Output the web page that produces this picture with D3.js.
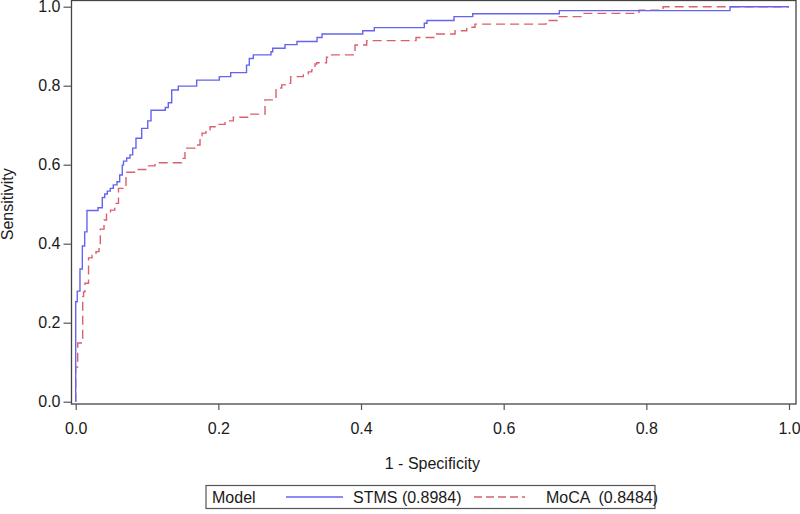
<!DOCTYPE html>
<html>
<head>
<meta charset="utf-8">
<script src="https://cdn.jsdelivr.net/npm/d3@7"></script>
<style>
  html, body { margin: 0; padding: 0; background: #fff; }
  svg { display: block; font-family: "Liberation Sans", Arial, sans-serif; }
  text { fill: #1a1a1a; }
</style>
</head>
<body>
<svg id="chart" width="800" height="514"></svg>
<script>
// ---- data ----
const stmsFpr = [0, 0, 0.0022, 0.006, 0.0093, 0.0126, 0.0158, 0.0313, 0.0373, 0.0407, 0.0443, 0.0485, 0.0527, 0.0579, 0.0617, 0.0653, 0.067, 0.0715, 0.0761, 0.0799, 0.0845, 0.0925, 0.101, 0.1056, 0.1256, 0.1298, 0.1346, 0.1438, 0.1696, 0.2013, 0.2173, 0.2395, 0.2434, 0.249, 0.2738, 0.2762, 0.2934, 0.3102, 0.3383, 0.3453, 0.4024, 0.4186, 0.4887, 0.4925, 0.5304, 0.5566, 0.678, 0.9173, 1.0];
const stmsTpr = [0, 0.253, 0.280, 0.336, 0.394, 0.430, 0.484, 0.491, 0.517, 0.526, 0.533, 0.540, 0.549, 0.557, 0.574, 0.599, 0.609, 0.617, 0.625, 0.642, 0.667, 0.692, 0.711, 0.738, 0.745, 0.757, 0.789, 0.799, 0.814, 0.823, 0.833, 0.852, 0.869, 0.878, 0.886, 0.895, 0.904, 0.912, 0.922, 0.931, 0.939, 0.947, 0.958, 0.965, 0.975, 0.982, 0.990, 1.0, 1.0];

const mocaFpr = [0, 0, 0.0028, 0.0098, 0.011, 0.013, 0.018, 0.0229, 0.0285, 0.0327, 0.0345, 0.0397, 0.0432, 0.0488, 0.0547, 0.06, 0.0663, 0.0705, 0.0878, 0.0993, 0.1112, 0.1486, 0.1532, 0.1673, 0.1743, 0.1771, 0.1827, 0.1883, 0.1977, 0.2093, 0.221, 0.243, 0.2654, 0.2808, 0.2888, 0.2934, 0.3014, 0.3191, 0.3261, 0.3309, 0.3355, 0.3379, 0.3516, 0.3565, 0.3892, 0.3916, 0.408, 0.4771, 0.5061, 0.5318, 0.5482, 0.5598, 0.6593, 0.6748, 0.7116, 0.7897, 0.8234, 1.0];
const mocaTpr = [0, 0.088, 0.1485, 0.266, 0.278, 0.300, 0.364, 0.371, 0.380, 0.397, 0.437, 0.460, 0.478, 0.485, 0.502, 0.540, 0.546, 0.581, 0.588, 0.597, 0.605, 0.616, 0.642, 0.650, 0.673, 0.680, 0.688, 0.696, 0.702, 0.711, 0.720, 0.728, 0.764, 0.794, 0.802, 0.806, 0.823, 0.830, 0.835, 0.840, 0.855, 0.858, 0.872, 0.878, 0.886, 0.903, 0.914, 0.922, 0.931, 0.939, 0.948, 0.956, 0.965, 0.975, 0.983, 0.991, 1.0, 1.0];

const xTicks = [0, 0.2, 0.4, 0.6, 0.8, 1.0];
const yTicks = [0, 0.2, 0.4, 0.6, 0.8, 1.0];
const seriesNames = ["STMS (0.8984)", "MoCA  (0.8484)"];
const legendTitle = "Model";
const xTitle = "1 - Specificity";
const yTitle = "Sensitivity";

// ---- layout ----
const svg = d3.select("#chart");
const frame = { left: 71.5, right: 796, top: 0.5, bottom: 404 };
const x = d3.scaleLinear().domain([0, 1]).range([75.7, 789]);
const y = d3.scaleLinear().domain([0, 1]).range([401.7, 6.7]);

const colors = ["#6464f0", "#d9606c"];

const series = [
  { pts: stmsFpr.map((v, i) => [v, stmsTpr[i]]), color: colors[0], dash: null },
  { pts: mocaFpr.map((v, i) => [v, mocaTpr[i]]), color: colors[1], dash: "9,5" }
];

const line = d3.line().x(d => x(d[0])).y(d => y(d[1])).curve(d3.curveStepAfter);

[series[1], series[0]].forEach(s => {
  svg.append("path")
    .attr("d", line(s.pts))
    .attr("fill", "none")
    .attr("stroke", s.color)
    .attr("stroke-width", 1.4)
    .attr("stroke-dasharray", s.dash);
});

// frame
svg.append("rect")
  .attr("x", frame.left).attr("y", frame.top)
  .attr("width", frame.right - frame.left)
  .attr("height", frame.bottom - frame.top)
  .attr("fill", "none").attr("stroke", "#444").attr("stroke-width", 1.3);

// axes
const xAxis = d3.axisBottom(x).tickValues(xTicks).tickFormat(d3.format(".1f")).tickSize(6).tickPadding(13);
const gx = svg.append("g").attr("transform", `translate(0,${frame.bottom})`).call(xAxis);
gx.select(".domain").remove();
gx.selectAll(".tick line").attr("stroke", "#555").attr("stroke-width", 1.2);
gx.selectAll(".tick text").attr("font-size", 16).attr("font-family", "Liberation Sans, Arial, sans-serif").attr("fill", "#1a1a1a");

const yAxis = d3.axisLeft(y).tickValues(yTicks).tickFormat(d3.format(".1f")).tickSize(8).tickPadding(3);
const gy = svg.append("g").attr("transform", `translate(${frame.left},0)`).call(yAxis);
gy.select(".domain").remove();
gy.selectAll(".tick line").attr("stroke", "#555").attr("stroke-width", 1.2);
gy.selectAll(".tick text").attr("font-size", 16).attr("font-family", "Liberation Sans, Arial, sans-serif").attr("fill", "#1a1a1a");

// axis titles
svg.append("text")
  .attr("x", (x(0) + x(1)) / 2).attr("y", 469)
  .attr("text-anchor", "middle").attr("font-size", 16)
  .text(xTitle);

svg.append("text")
  .attr("transform", `translate(13,${(y(0) + y(1)) / 2}) rotate(-90)`)
  .attr("text-anchor", "middle").attr("font-size", 16)
  .text(yTitle);

// legend
const lg = svg.append("g");
lg.append("rect")
  .attr("x", 206).attr("y", 485.5).attr("width", 449).attr("height", 23)
  .attr("fill", "#fff").attr("stroke", "#555").attr("stroke-width", 1.2);
lg.append("text").attr("x", 212).attr("y", 503).attr("font-size", 16).text(legendTitle);

lg.append("line").attr("x1", 286).attr("x2", 343).attr("y1", 497).attr("y2", 497)
  .attr("stroke", colors[0]).attr("stroke-width", 1.4);
lg.append("text").attr("x", 353).attr("y", 503).attr("font-size", 16).text(seriesNames[0]);

lg.append("line").attr("x1", 474).attr("x2", 525).attr("y1", 497).attr("y2", 497)
  .attr("stroke", colors[1]).attr("stroke-width", 1.4).attr("stroke-dasharray", "8,4");
lg.append("text").attr("x", 546).attr("y", 503).attr("font-size", 16)
  .style("white-space", "pre").text(seriesNames[1]);
</script>
</body>
</html>
